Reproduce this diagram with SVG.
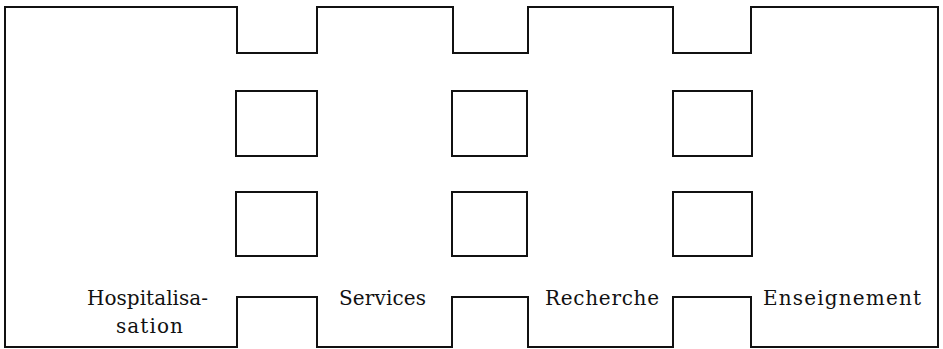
<svg xmlns="http://www.w3.org/2000/svg" width="943" height="349" viewBox="0 0 943 349">
<style>
.ln{fill:none;stroke:#111;stroke-width:2;stroke-linejoin:miter}
.lb{font-family:"DejaVu Serif","Liberation Serif",serif;font-size:20px;fill:#111}
</style>
<rect width="943" height="349" fill="#fff"/>
<g id="building">
<path class="ln" d="M5,7 H237 V53 H317 V7 H453 V53 H528 V7 H673 V53 H751 V7 H938 V347 H751 V297 H673 V347 H528 V297 H452 V347 H317 V297 H237 V347 H5 Z"/>
</g>
<g id="box-1-1"><rect class="ln" x="236" y="91" width="81" height="65"/></g>
<g id="box-1-2"><rect class="ln" x="452" y="91" width="75" height="65"/></g>
<g id="box-1-3"><rect class="ln" x="673" y="91" width="79" height="65"/></g>
<g id="box-2-1"><rect class="ln" x="236" y="192" width="81" height="64"/></g>
<g id="box-2-2"><rect class="ln" x="452" y="192" width="75" height="64"/></g>
<g id="box-2-3"><rect class="ln" x="673" y="192" width="79" height="64"/></g>
<g id="hospitalisation">
<text class="lb" x="87" y="305" textLength="121" lengthAdjust="spacing">Hospitalisa-</text>
<text class="lb" x="116" y="333" textLength="67" lengthAdjust="spacing">sation</text>
</g>
<g id="services"><text class="lb" x="339" y="305" textLength="87" lengthAdjust="spacing">Services</text></g>
<g id="recherche"><text class="lb" x="545" y="305" textLength="114" lengthAdjust="spacing">Recherche</text></g>
<g id="enseignement"><text class="lb" x="763" y="305" textLength="158" lengthAdjust="spacing">Enseignement</text></g>
</svg>
